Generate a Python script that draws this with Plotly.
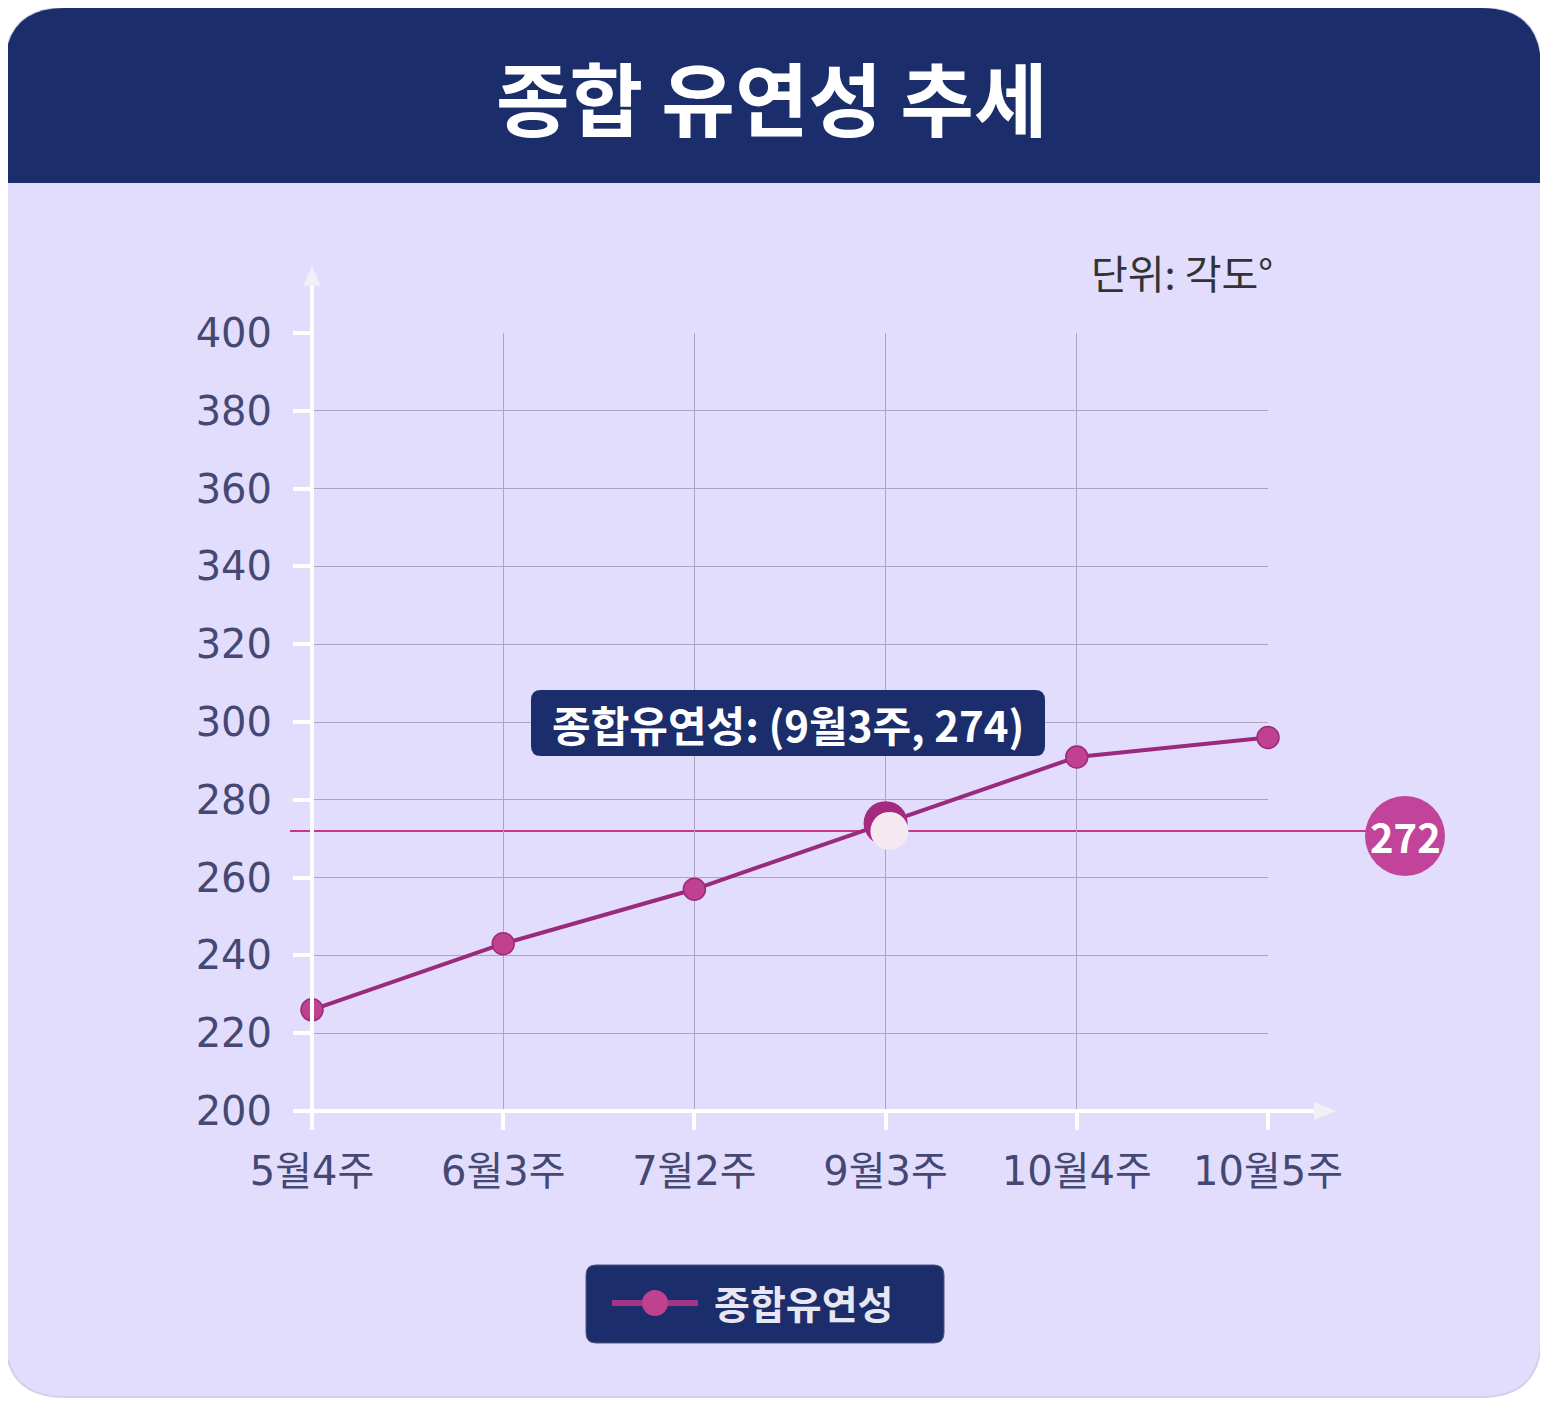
import plotly.graph_objects as go

# data
weeks = ["5월4주", "6월3주", "7월2주", "9월3주", "10월4주", "10월5주"]
flexibility = [226, 243, 257, 274, 291, 296]
ref_value = 272
highlight_idx = 3
y_ticks = [200, 220, 240, 260, 280, 300, 320, 340, 360, 380, 400]

# page body has an 8px margin, so work in reference pixels minus 8
OFF = 8
W, H = 1548 - OFF, 1405 - OFF
PL, PR, PT, PB = 312, 1268, 333, 1111

NAVY = "#1b2d6b"
LAVENDER = "#e2ddfd"
LINE = "#9a2a7e"
DOT = "#c0418f"
FONT = "Noto Sans CJK KR"


def px(x):
    return (x - PL) / (PR - PL)


def py(y):
    return (PB - y) / (PB - PT)


def rounded_path(x0, y0, x1, y1, r, top=True, bottom=True):
    # rounded rectangle in reference pixels -> paper path
    rt = r if top else 0
    rb = r if bottom else 0
    pts = []
    pts.append("M %f,%f" % (px(x0 + rt), py(y0)))
    pts.append("L %f,%f" % (px(x1 - rt), py(y0)))
    pts.append("Q %f,%f %f,%f" % (px(x1), py(y0), px(x1), py(y0 + rt)))
    pts.append("L %f,%f" % (px(x1), py(y1 - rb)))
    pts.append("Q %f,%f %f,%f" % (px(x1), py(y1), px(x1 - rb), py(y1)))
    pts.append("L %f,%f" % (px(x0 + rb), py(y1)))
    pts.append("Q %f,%f %f,%f" % (px(x0), py(y1), px(x0), py(y1 - rb)))
    pts.append("L %f,%f" % (px(x0), py(y0 + rt)))
    pts.append("Q %f,%f %f,%f" % (px(x0), py(y0), px(x0 + rt), py(y0)))
    return " ".join(pts) + " Z"


def label(text, x, y, size, color="white", xanchor="center"):
    return dict(text=text, xref="paper", yref="paper", x=px(x), y=py(y),
                xanchor=xanchor, yanchor="middle", showarrow=False,
                font=dict(family=FONT, size=size, color=color))


fig = go.Figure()

fig.add_trace(go.Scatter(
    x=list(range(len(weeks))), y=flexibility,
    mode="lines+markers", cliponaxis=False,
    line=dict(color=LINE, width=4),
    marker=dict(size=22, color=DOT, line=dict(color=LINE, width=1.5)),
    showlegend=False, hoverinfo="skip",
))

# highlighted point (hover look)
fig.add_trace(go.Scatter(
    x=[highlight_idx], y=[flexibility[highlight_idx]], mode="markers",
    cliponaxis=False,
    marker=dict(size=44, color="#a42a80"), showlegend=False, hoverinfo="skip",
))
fig.add_trace(go.Scatter(
    x=[highlight_idx + 0.02], y=[ref_value], mode="markers",
    cliponaxis=False,
    marker=dict(size=38, color="#f4e8f1"), showlegend=False, hoverinfo="skip",
))

shapes = []
# card background + header
shapes.append(dict(type="path", xref="paper", yref="paper", layer="below",
                   path=rounded_path(5, 8, 1541, 1397, 60),
                   fillcolor=LAVENDER, line=dict(color="#d4d0e6", width=2)))
shapes.append(dict(type="path", xref="paper", yref="paper", layer="below",
                   path=rounded_path(5, 8, 1541, 183, 60, bottom=False),
                   fillcolor=NAVY, line=dict(width=0)))

# axis lines with arrows
shapes.append(dict(type="line", xref="paper", yref="paper", layer="above",
                   x0=px(PL), x1=px(PL), y0=py(PB + 18), y1=py(284),
                   line=dict(color="white", width=4)))
shapes.append(dict(type="line", xref="paper", yref="paper", layer="above",
                   x0=px(PL - 18), x1=px(1320), y0=py(PB), y1=py(PB),
                   line=dict(color="white", width=4)))
shapes.append(dict(type="path", xref="paper", yref="paper", layer="above",
                   path="M %f,%f L %f,%f L %f,%f Z" % (px(303), py(286), px(312), py(266), px(321), py(286)),
                   fillcolor="#f1f0f6", line=dict(width=0)))
shapes.append(dict(type="path", xref="paper", yref="paper", layer="above",
                   path="M %f,%f L %f,%f L %f,%f Z" % (px(1314), py(1102), px(1336), py(1111), px(1314), py(1120)),
                   fillcolor="#f1f0f6", line=dict(width=0)))

# reference line
shapes.append(dict(type="line", xref="paper", yref="y", layer="below",
                   x0=px(290), x1=px(1370), y0=ref_value, y1=ref_value,
                   line=dict(color="#c7378a", width=2)))
shapes.append(dict(type="circle", xref="paper", yref="paper", layer="above",
                   x0=px(1365), x1=px(1445), y0=py(796), y1=py(876),
                   fillcolor="#c2449a", line=dict(width=0)))

# tooltip box
shapes.append(dict(type="path", xref="paper", yref="paper", layer="above",
                   path=rounded_path(531, 690, 1045, 756, 10),
                   fillcolor=NAVY, line=dict(width=0)))

# legend box
shapes.append(dict(type="path", xref="paper", yref="paper", layer="above",
                   path=rounded_path(586, 1265, 944, 1343, 10),
                   fillcolor=NAVY, line=dict(color="#55577a", width=1)))
shapes.append(dict(type="line", xref="paper", yref="paper", layer="above",
                   x0=px(612), x1=px(698), y0=py(1303), y1=py(1303),
                   line=dict(color="#a33588", width=6)))
shapes.append(dict(type="circle", xref="paper", yref="paper", layer="above",
                   x0=px(642), x1=px(668), y0=py(1290), y1=py(1316),
                   fillcolor=DOT, line=dict(width=0)))

annotations = [
    label("<b>종합 유연성 추세</b>", 772, 95, 80),
    label("단위: 각도°", 1275, 272, 40, color="#333333", xanchor="right"),
    label("<b>종합유연성: (%s, %d)</b>" % (weeks[highlight_idx], flexibility[highlight_idx]),
          788, 723, 42),
    label("<b>%d</b>" % ref_value, 1405, 836, 40),
    label("<b>종합유연성</b>", 712, 1302, 39, color="#e8e6f0", xanchor="left"),
]

fig.update_layout(
    width=W, height=H,
    margin=dict(l=PL - OFF, r=W - (PR - OFF), t=PT - OFF, b=H - (PB - OFF), pad=0),
    paper_bgcolor="white", plot_bgcolor=LAVENDER,
    shapes=shapes, annotations=annotations,
    xaxis=dict(range=[0, 5], tickvals=list(range(len(weeks))), ticktext=weeks,
               showgrid=True, gridcolor="#aaa6c0", gridwidth=1, zeroline=False,
               ticks="outside", ticklen=18, tickwidth=4, tickcolor="white",
               ticklabelstandoff=7,
               tickfont=dict(family="DejaVu Sans, " + FONT, size=40, color="#444873"),
               showline=False),
    yaxis=dict(range=[200, 400], tickvals=y_ticks,
               showgrid=True, gridcolor="#aaa6c0", gridwidth=1, zeroline=False,
               ticks="outside", ticklen=18, tickwidth=4, tickcolor="white",
               ticklabelstandoff=13,
               tickfont=dict(family="DejaVu Sans", size=40, color="#444873"),
               showline=False),
)

fig.write_html("out.html")
